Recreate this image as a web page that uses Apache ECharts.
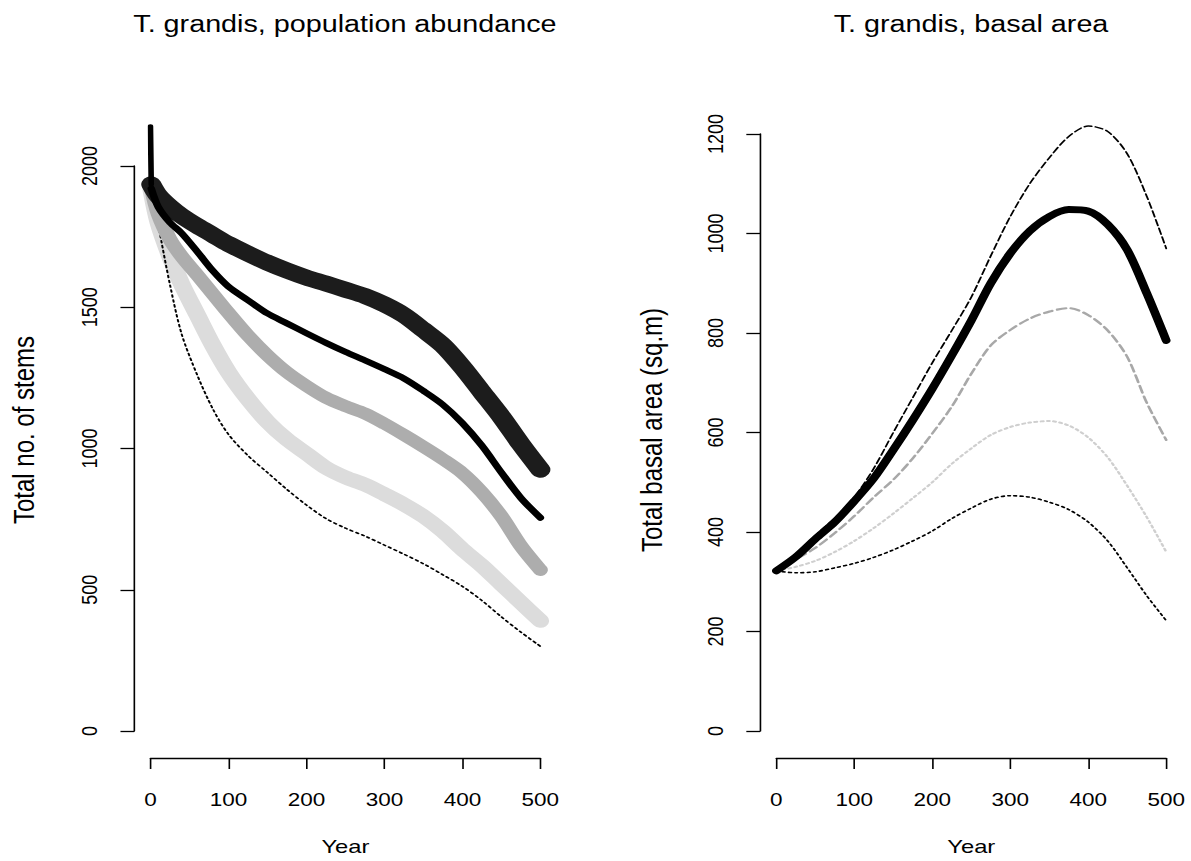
<!DOCTYPE html>
<html>
<head>
<meta charset="utf-8">
<script src="https://cdn.jsdelivr.net/npm/echarts@6/dist/echarts.min.js"></script>
<style>
  html, body { margin: 0; padding: 0; background: #fff; overflow: hidden; }
  #chart { width: 953px; height: 861px; transform: scaleX(1.2497); transform-origin: 0 0; }
</style>
</head>
<body>
<div id="chart"></div>
<script>
// ---------- data ----------
const titleLeft = 'T. grandis, population abundance';
const titleRight = 'T. grandis, basal area';
const xTicks = [0, 100, 200, 300, 400, 500];
const yTicksLeft = [0, 500, 1000, 1500, 2000];
const yTicksRight = [0, 200, 400, 600, 800, 1000, 1200];

// left panel: total no. of stems
const yearsLeft = [1, 10, 25, 40, 60, 80, 100, 125, 150, 175, 200, 225, 250, 275, 300, 325, 350, 375, 400, 425, 450, 475, 500];
const stemsSolid  = [1920, 1855, 1800, 1762, 1697, 1629, 1573, 1525, 1478, 1443, 1408, 1374, 1342, 1312, 1281, 1248, 1204, 1155, 1090, 1010, 915, 825, 755];
const stemsBlackBand = [1935, 1895, 1855, 1823, 1788, 1756, 1724, 1690, 1658, 1630, 1605, 1584, 1562, 1540, 1510, 1472, 1420, 1365, 1288, 1200, 1112, 1015, 925];
const stemsGreyBand  = [1925, 1830, 1740, 1680, 1614, 1547, 1480, 1400, 1330, 1270, 1222, 1180, 1150, 1124, 1088, 1048, 1006, 962, 913, 845, 760, 655, 570];
const stemsLightBand = [1915, 1800, 1680, 1582, 1473, 1365, 1270, 1175, 1095, 1032, 982, 932, 898, 872, 838, 802, 760, 707, 643, 585, 520, 455, 390];
const stemsDotted    = [1910, 1790, 1580, 1405, 1260, 1140, 1050, 975, 915, 855, 800, 752, 718, 690, 658, 626, 592, 553, 512, 462, 404, 350, 300];
const initYears = [0, 1];
const initStems = [2140, 1935];

// right panel: total basal area (sq.m)
const yearsRight = [0, 25, 50, 75, 100, 125, 150, 175, 200, 225, 250, 275, 300, 325, 350, 375, 400, 425, 450, 475, 500];
const basalSolid  = [322, 350, 386, 420, 462, 508, 565, 625, 688, 755, 825, 900, 960, 1005, 1034, 1048, 1045, 1018, 967, 880, 785];
const basalDashed = [322, 355, 393, 428, 470, 528, 600, 670, 740, 805, 872, 955, 1034, 1100, 1152, 1195, 1216, 1205, 1160, 1075, 970];
const basalGreyDashed = [322, 345, 368, 398, 432, 470, 505, 548, 598, 652, 718, 775, 806, 829, 843, 850, 836, 805, 752, 660, 585];
const basalLightDotted = [322, 330, 342, 360, 382, 408, 437, 468, 500, 537, 568, 595, 611, 620, 623, 614, 590, 550, 493, 430, 360];
const basalDotted = [322, 318, 320, 328, 337, 349, 364, 382, 402, 427, 448, 466, 473, 470, 460, 445, 420, 382, 328, 272, 222];

// ---------- chart ----------
const FONT = "'Liberation Sans', Arial, Helvetica, sans-serif";
function pairs(xs, ys) { return xs.map((x, i) => [x, ys[i]]); }

function xAxisFor(gi) {
  return {
    gridIndex: gi, type: 'value', min: xTicks[0], max: xTicks[xTicks.length - 1], interval: 100,
    offset: 27,
    name: 'Year', nameLocation: 'middle', nameGap: 79,
    nameTextStyle: { fontFamily: FONT, fontSize: 19, color: '#000' },
    axisLine: { show: true, onZero: false, lineStyle: { color: '#000', width: 1.3 } },
    axisTick: { show: true, length: 11, inside: false, lineStyle: { color: '#000', width: 1.3 } },
    axisLabel: { fontFamily: FONT, fontSize: 18, color: '#000', margin: 33, formatter: v => String(v) },
    splitLine: { show: false }
  };
}
function yAxisFor(gi, ticks) {
  return {
    gridIndex: gi, type: 'value', min: ticks[0], max: ticks[ticks.length - 1],
    interval: ticks[1] - ticks[0], offset: 13,
    axisLine: { show: true, onZero: false, lineStyle: { color: '#000', width: 1.3 } },
    axisTick: { show: true, length: 11, inside: false, lineStyle: { color: '#000', width: 1.3 } },
    axisLabel: { fontFamily: FONT, fontSize: 18, color: '#000', margin: 27, rotate: 90, formatter: v => String(v) },
    splitLine: { show: false }
  };
}
function line(gi, data, color, width, dash, z) {
  return {
    type: 'line', xAxisIndex: gi, yAxisIndex: gi, data: data,
    showSymbol: false, symbol: 'none', smooth: 0.3, clip: false,
    lineStyle: { color: color, width: width, type: dash || 'solid', cap: 'round', join: 'round' },
    z: z, animation: false, silent: true
  };
}

const chart = echarts.init(document.getElementById('chart'), null, { renderer: 'svg' });
chart.setOption({
  backgroundColor: '#fff',
  animation: false,
  grid: [
    { left: 120.4, width: 312, top: 166, height: 565 },
    { left: 621.2, width: 312, top: 134, height: 597 }
  ],
  xAxis: [xAxisFor(0), xAxisFor(1)],
  yAxis: [yAxisFor(0, yTicksLeft), yAxisFor(1, yTicksRight)],
  graphic: [
    { type: 'text', x: 276, y: 24, style: { text: titleLeft, font: '23px ' + FONT, fill: '#000', textAlign: 'center', textVerticalAlign: 'middle' } },
    { type: 'text', x: 777, y: 24, style: { text: titleRight, font: '23px ' + FONT, fill: '#000', textAlign: 'center', textVerticalAlign: 'middle' } },
    { type: 'text', x: 18.5, y: 430, rotation: Math.PI / 2, style: { text: 'Total no. of stems', font: '24px ' + FONT, fill: '#000', textAlign: 'center', textVerticalAlign: 'middle' } },
    { type: 'text', x: 521, y: 430, rotation: Math.PI / 2, style: { text: 'Total basal area (sq.m)', font: '24px ' + FONT, fill: '#000', textAlign: 'center', textVerticalAlign: 'middle' } }
  ],
  series: [
    // left
    line(0, pairs(yearsLeft, stemsLightBand), '#dcdcdc', 14, 'solid', 2),
    line(0, pairs(yearsLeft, stemsDotted), '#000', 1.6, [2, 3], 3),
    line(0, pairs(yearsLeft, stemsGreyBand), '#adadad', 12, 'solid', 4),
    line(0, pairs(yearsLeft, stemsBlackBand), '#1c1c1c', 16, 'solid', 5),
    line(0, pairs(yearsLeft, stemsSolid), '#000', 6, 'solid', 6),
    line(0, pairs(initYears, initStems), '#000', 4.5, 'solid', 7),
    // right
    line(1, pairs(yearsRight, basalDotted), '#000', 1.6, [2, 3], 3),
    line(1, pairs(yearsRight, basalLightDotted), '#cfcfcf', 2, [2, 3], 3),
    line(1, pairs(yearsRight, basalGreyDashed), '#a8a8a8', 2.2, [7, 4], 4),
    line(1, pairs(yearsRight, basalDashed), '#000', 1.5, [6, 3], 5),
    line(1, pairs(yearsRight, basalSolid), '#000', 7, 'solid', 6)
  ]
});
</script>
</body>
</html>
